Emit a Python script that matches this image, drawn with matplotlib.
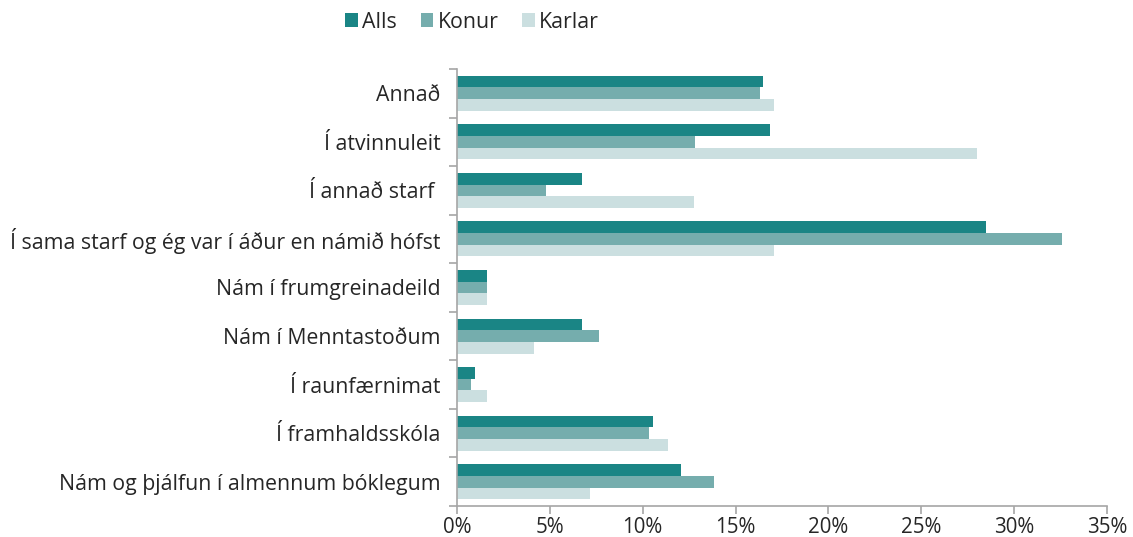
import matplotlib
matplotlib.use("Agg")
import matplotlib.pyplot as plt
import numpy as np
from matplotlib.ticker import FuncFormatter, MultipleLocator

categories = [
    "Annað",
    "Í atvinnuleit",
    "Í annað starf ",
    "Í sama starf og ég var í áður en námið hófst",
    "Nám í frumgreinadeild",
    "Nám í Menntastoðum",
    "Í raunfærnimat",
    "Í framhaldsskóla",
    "Nám og þjálfun í almennum bóklegum",
]
series_names = ["Alls", "Konur", "Karlar"]
alls = [16.5, 16.85, 6.75, 28.5, 1.6, 6.75, 0.95, 10.55, 12.05]
konur = [16.3, 12.8, 4.8, 32.6, 1.6, 7.65, 0.75, 10.35, 13.85]
karlar = [17.05, 28.0, 12.75, 17.05, 1.6, 4.15, 1.6, 11.35, 7.15]
colors = ["#1a8585", "#75adad", "#cbdfe0"]

plt.rcParams['font.family'] = ['Open Sans', 'DejaVu Sans']

fig = plt.figure(figsize=(11.33, 5.37), dpi=100)
ax = fig.add_axes([457/1133, 1 - 506/537, (1107-457)/1133, (506-69)/537])

n = len(categories)
y = np.arange(n)
h = 0.24
for i, (vals, name) in enumerate(zip([alls, konur, karlar], series_names)):
    ax.barh(y + (i - 1) * h, vals, height=h, color=colors[i], label=name)

ax.set_ylim(n - 0.5, -0.5)
ax.set_xlim(0, 35)
ax.xaxis.set_major_locator(MultipleLocator(5))
ax.xaxis.set_major_formatter(FuncFormatter(lambda v, p: f"{int(round(v))}%"))
ax.set_yticks(np.arange(n + 1) - 0.5, minor=False)
ax.set_yticklabels([])
ax.set_yticks(y, minor=True)
ax.set_yticklabels(categories, minor=True)
ax.tick_params(axis='y', which='minor', length=0, pad=12, labelsize=15.3, labelcolor="#262626")
ax.tick_params(axis='y', which='major', length=6, color="#a6a6a6", width=1.2)
ax.tick_params(axis='x', length=6, color="#a6a6a6", width=1.2, labelsize=14.8, labelcolor="#262626", pad=2)
for s in ['top', 'right']:
    ax.spines[s].set_visible(False)
for s in ['left', 'bottom']:
    ax.spines[s].set_color("#a6a6a6")
    ax.spines[s].set_linewidth(1.2)

leg = fig.legend(loc='center', bbox_to_anchor=(472/1133, 1 - 22/537), ncol=3, frameon=False,
                 fontsize=15.3, handlelength=0.6, handleheight=0.6, handletextpad=0.2,
                 columnspacing=1.1)
for t in leg.get_texts():
    t.set_color("#262626")

fig.savefig("out.png", dpi=100)
